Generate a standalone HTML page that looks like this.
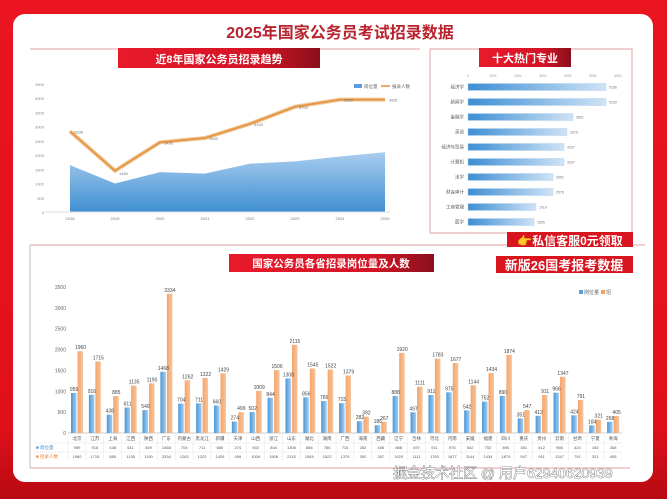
<!DOCTYPE html>
<html><head><meta charset="utf-8"><style>
html,body{margin:0;padding:0;width:667px;height:499px;overflow:hidden;background:#e3121b;font-family:"Liberation Sans","Noto Sans CJK SC",sans-serif}
</style></head><body>
<svg id="s" width="667" height="499" viewBox="0 0 667 499" xmlns="http://www.w3.org/2000/svg" font-family="Liberation Sans, Noto Sans CJK SC, sans-serif">
<defs>
<linearGradient id="bg" x1="0" y1="0" x2="0" y2="1"><stop offset="0" stop-color="#ea1520"/><stop offset="0.85" stop-color="#e0101a"/><stop offset="1" stop-color="#b80a12"/></linearGradient>
<linearGradient id="hd" x1="0" y1="0" x2="1" y2="0"><stop offset="0" stop-color="#e81a2a"/><stop offset="0.7" stop-color="#d31426"/><stop offset="1" stop-color="#8a0f1c"/></linearGradient>
<linearGradient id="ar" x1="0" y1="0" x2="0" y2="1"><stop offset="0" stop-color="#a9cdee"/><stop offset="1" stop-color="#3f8fd2"/></linearGradient>
<linearGradient id="hb" x1="0" y1="0" x2="1" y2="0"><stop offset="0" stop-color="#3c8ed4"/><stop offset="1" stop-color="#cfe3f6"/></linearGradient>
<linearGradient id="vb" x1="0" y1="0" x2="1" y2="0"><stop offset="0" stop-color="#4a98d8"/><stop offset="1" stop-color="#a5cdef"/></linearGradient>
<linearGradient id="vo" x1="0" y1="0" x2="1" y2="0"><stop offset="0" stop-color="#f7a56b"/><stop offset="1" stop-color="#f3c49c"/></linearGradient>
</defs>
<rect width="667" height="499" fill="url(#bg)"/>
<rect x="13" y="14" width="640" height="468" rx="12" fill="#fff"/>
<text x="340" y="38" text-anchor="middle" font-size="16" font-weight="bold" fill="#b8232e">2025年国家公务员考试招录数据</text>
<!-- top-left panel -->
<line x1="30" y1="49" x2="420" y2="49" stroke="#e6a0a4" stroke-width="1"/>
<rect x="118" y="48" width="202" height="20" fill="url(#hd)"/>
<text x="219" y="63" text-anchor="middle" font-size="11" font-weight="bold" fill="#fff">近8年国家公务员招录趋势</text>
<g id="tl"></g>
<!-- right panel -->
<rect x="430" y="49" width="202" height="184" fill="none" stroke="#e6a0a4"/>
<rect x="479" y="48" width="92" height="19" fill="url(#hd)"/>
<text x="525" y="62" text-anchor="middle" font-size="11" font-weight="bold" fill="#fff">十大热门专业</text>
<g id="tr"></g>
<!-- bottom panel -->
<line x1="30" y1="245" x2="645" y2="245" stroke="#e6a0a4"/>
<line x1="30" y1="245" x2="30" y2="468" stroke="#bbb"/>
<line x1="30" y1="468" x2="630" y2="468" stroke="#e6a0a4"/>
<rect x="229" y="254" width="205" height="18" fill="url(#hd)"/>
<text x="331" y="267" text-anchor="middle" font-size="10.5" font-weight="bold" fill="#fff">国家公务员各省招录岗位量及人数</text>
<rect x="507" y="232" width="126" height="15" fill="#d8141f"/>
<text x="570" y="245" text-anchor="middle" font-size="12" font-weight="bold" fill="#fff">👉私信客服0元领取</text>
<rect x="496" y="256" width="137" height="17" fill="#d8141f"/>
<text x="564" y="270" text-anchor="middle" font-size="13" font-weight="bold" fill="#fff">新版26国考报考数据</text>
<g id="bt"></g>
<text x="393" y="478" font-size="14" fill="#fff" stroke="#333" stroke-width="0.6" paint-order="stroke">掘金技术社区 @ 用户62940620939</text>
</svg>
<script>
var NS="http://www.w3.org/2000/svg";
function el(p,t,a,tx){var e=document.createElementNS(NS,t);for(var k in a)e.setAttribute(k,a[k]);if(tx!=null)e.textContent=tx;document.getElementById(p).appendChild(e);return e;}
// top-left
var yrs=[2018,2019,2020,2021,2022,2023,2024,2025];
var line=[2838,1450,2450,2600,3100,3700,3950,3951];
var area=[1650,1000,1400,1350,1700,1780,1950,2100];
function X(i){return 70+i*45;} function Y(v){return 212-v/4500*128;}
for(var v=0;v<=4500;v+=500){el("tl","text",{x:44,y:Y(v)+2,"font-size":4,"text-anchor":"end",fill:"#888"},v);}
var d="M"+X(0)+","+Y(0);for(var i=0;i<8;i++)d+=" L"+X(i)+","+Y(area[i]);d+=" L"+X(7)+","+Y(0)+"Z";
el("tl","path",{d:d,fill:"url(#ar)"});
el("tl","line",{x1:45,y1:212,x2:390,y2:212,stroke:"#ddd"});
var p="";for(i=0;i<8;i++)p+=(i?" L":"M")+X(i)+","+Y(line[i]);
el("tl","path",{d:p,fill:"none",stroke:"#f2c38e","stroke-width":4});
el("tl","path",{d:p,fill:"none",stroke:"#e0913e","stroke-width":1.5});
for(i=0;i<8;i++){el("tl","text",{x:X(i)+4,y:Y(line[i])+(i==1?4:2),"font-size":4,fill:"#777"},line[i]);
el("tl","text",{x:X(i),y:220,"font-size":4,"text-anchor":"middle",fill:"#777"},yrs[i]);}
el("tl","rect",{x:354,y:84,width:8,height:4,fill:"#5a9fdc"});el("tl","text",{x:364,y:88,"font-size":4.5,fill:"#666"},"岗位量");
el("tl","line",{x1:381,y1:86,x2:390,y2:86,stroke:"#e0913e","stroke-width":1.5});el("tl","text",{x:392,y:88,"font-size":4.5,fill:"#666"},"报录人数");
// top-right
var maj=["经济学","新闻学","金融学","英语","经济与贸易","计算机","法学","财会审计","工商管理","医学"];
var ends=[606,606,573,567,564,564,553,553,536,534];
var vals=[5156,5139,3651,3375,3167,3167,2652,2578,1910,1805];
var ax=["0","1001","2001","3001","4001","5001","6001"];
for(i=0;i<7;i++)el("tr","text",{x:468+i*25,y:77,"font-size":3.5,"text-anchor":"middle",fill:"#999"},ax[i]);
for(i=0;i<10;i++){var y=87+i*15.0;
el("tr","rect",{x:468,y:y-3.5,width:ends[i]-468,height:7,fill:"url(#hb)",stroke:"#b9d3ec","stroke-width":0.5});
el("tr","text",{x:464,y:y+1.5,"font-size":4.5,"text-anchor":"end",fill:"#555"},maj[i]);
el("tr","text",{x:ends[i]+3,y:y+1.5,"font-size":3.5,fill:"#777"},vals[i]);}
// bottom
var pr="北京 江苏 上海 江西 陕西 广东 内蒙古 黑龙江 新疆 天津 山西 浙江 山东 湖北 湖南 广西 海南 西藏 辽宁 吉林 河北 河南 安徽 福建 四川 重庆 贵州 云南 甘肃 宁夏 青海".split(" ");
var a=[959,916,438,611,549,1468,704,711,660,274,502,844,1308,856,766,715,282,186,888,497,911,975,542,752,890,351,412,966,424,184,268];
var b=[1960,1715,885,1135,1190,3334,1262,1322,1429,499,1009,1506,2115,1545,1522,1379,392,267,1920,1111,1783,1677,1144,1434,1874,547,911,1347,791,321,405];
function BY(v){return 433-v*146/3500;}
for(v=0;v<=3500;v+=500)el("bt","text",{x:66,y:BY(v)+2,"font-size":5,"text-anchor":"end",fill:"#666"},v);
el("bt","line",{x1:68,y1:433,x2:622,y2:433,stroke:"#ccc"});
el("bt","text",{x:36,y:449,"font-size":4.5,fill:"#4a90d0"},"■ 岗位量");
el("bt","text",{x:36,y:458,"font-size":4.5,fill:"#e8863a"},"■ 招录人数");
for(i=0;i<31;i++){var c=77+i*17.87;
el("bt","rect",{x:c-6,y:BY(a[i]),width:5.5,height:433-BY(a[i]),fill:"url(#vb)"});
el("bt","rect",{x:c+0.5,y:BY(b[i]),width:5.5,height:433-BY(b[i]),fill:"url(#vo)"});
el("bt","text",{x:c-3,y:BY(a[i])-2,"font-size":5,"text-anchor":"middle",fill:"#444"},a[i]);
el("bt","text",{x:c+3.5,y:BY(b[i])-2,"font-size":5,"text-anchor":"middle",fill:"#444"},b[i]);
el("bt","text",{x:c,y:440,"font-size":4.5,"text-anchor":"middle",fill:"#555"},pr[i]);
el("bt","text",{x:c,y:449,"font-size":4,"text-anchor":"middle",fill:"#555"},a[i]);
el("bt","text",{x:c,y:458,"font-size":4,"text-anchor":"middle",fill:"#555"},b[i]);
el("bt","line",{x1:c-9,y1:435,x2:c-9,y2:460,stroke:"#ddd","stroke-width":0.4});}
el("bt","line",{x1:34,y1:443,x2:622,y2:443,stroke:"#ddd","stroke-width":0.4});
el("bt","line",{x1:34,y1:452,x2:622,y2:452,stroke:"#ddd","stroke-width":0.4});
el("bt","rect",{x:579,y:290,width:4,height:4,fill:"#5a9fdc"});el("bt","text",{x:584,y:294,"font-size":5,fill:"#666"},"岗位量");
el("bt","rect",{x:601,y:290,width:4,height:4,fill:"#f0a060"});el("bt","text",{x:606,y:294,"font-size":5,fill:"#666"},"招");
</script>
</body></html>
